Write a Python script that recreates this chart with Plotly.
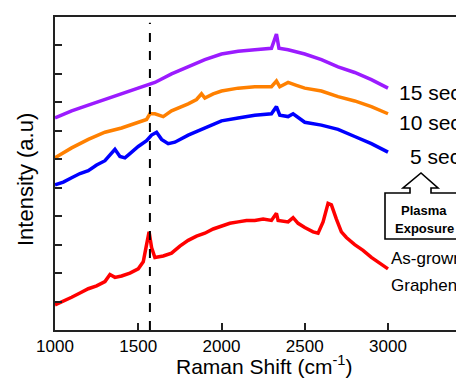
import plotly.graph_objects as go

# ---- data (Raman shift in cm^-1, intensity in offset arbitrary units) ----
red_x = [1000, 1050, 1100, 1150, 1200, 1250, 1300, 1330, 1360, 1400, 1450, 1500, 1530, 1550, 1565, 1580,
         1600, 1650, 1700, 1750, 1800, 1850, 1900, 1950, 2000, 2050, 2100, 2150, 2200, 2250, 2300, 2330,
         2340, 2400, 2430, 2460, 2500, 2550, 2580, 2610, 2640, 2660, 2690, 2720, 2750, 2800, 2850, 2900,
         2950, 3000]
red_y = [0.88, 1.0, 1.15, 1.3, 1.45, 1.55, 1.7, 1.95, 1.85, 1.9, 2.0, 2.15, 2.4, 3.0, 3.45, 2.9,
         2.55, 2.6, 2.7, 2.95, 3.15, 3.3, 3.4, 3.55, 3.65, 3.75, 3.8, 3.85, 3.85, 3.9, 3.85, 4.1,
         3.85, 3.8, 3.95, 3.75, 3.6, 3.45, 3.4, 3.8, 4.45, 4.4, 3.9, 3.45, 3.25, 3.0, 2.8, 2.55,
         2.35, 2.15]

blue_x = [1000, 1050, 1100, 1150, 1200, 1250, 1300, 1340, 1360, 1390, 1420, 1450, 1500, 1550, 1580, 1610,
          1640, 1680, 1720, 1800, 1900, 2000, 2100, 2200, 2300, 2330, 2350, 2400, 2430, 2500, 2600, 2700,
          2800, 2900, 3000]
blue_y = [5.1, 5.2, 5.35, 5.5, 5.6, 5.8, 5.95, 6.25, 6.35, 6.1, 6.05, 6.2, 6.45, 6.65, 6.85, 6.95,
          6.7, 6.55, 6.6, 6.85, 7.1, 7.35, 7.45, 7.55, 7.6, 7.85, 7.55, 7.5, 7.6, 7.3, 7.2, 7.05,
          6.8, 6.55, 6.25]

orange_x = [1000, 1100, 1200, 1300, 1400, 1500, 1550, 1570, 1600, 1650, 1700, 1800, 1850, 1880, 1900, 1950,
            2000, 2100, 2200, 2300, 2330, 2350, 2400, 2450, 2500, 2600, 2700, 2800, 2900, 3000]
orange_y = [6.05, 6.4, 6.7, 6.95, 7.1, 7.3, 7.4, 7.6, 7.6, 7.5, 7.7, 7.95, 8.1, 8.3, 8.15, 8.3,
            8.4, 8.5, 8.55, 8.55, 8.75, 8.55, 8.7, 8.6, 8.5, 8.4, 8.2, 8.05, 7.85, 7.6]

purple_x = [1000, 1100, 1200, 1300, 1400, 1500, 1600, 1700, 1800, 1900, 2000, 2100, 2200, 2300, 2330, 2345,
            2400, 2500, 2600, 2700, 2800, 2900, 3000]
purple_y = [7.45, 7.7, 7.9, 8.1, 8.3, 8.5, 8.7, 9.0, 9.25, 9.5, 9.7, 9.8, 9.85, 9.9, 10.4, 9.9,
            9.85, 9.7, 9.5, 9.25, 9.05, 8.8, 8.5]

x_tickvals = [1000, 1500, 2000, 2500, 3000]
y_tickvals = [1, 2, 3, 4, 5, 6, 7, 8, 9, 10]
g_peak = 1570

FONT = "Arial, Liberation Sans, sans-serif"

# page has an 8px body margin: figure drawn at 456x373 offset by 8px
OFF = 8
FIG_W, FIG_H = 464 - OFF, 381 - OFF
# plot-area geometry in page pixels
L, R, T, B = 55, 464, 17, 330
W, H = R - L, B - T


def px(x):
    return (x - L) / W


def py(y):
    return (B - y) / H


fig = go.Figure()
for xs, ys, col in [(red_x, red_y, "#FF0000"), (blue_x, blue_y, "#0000FF"),
                    (orange_x, orange_y, "#FF8000"), (purple_x, purple_y, "#9B1BFF")]:
    fig.add_trace(go.Scatter(x=xs, y=ys, mode="lines", line=dict(color=col, width=3.5),
                             showlegend=False, hoverinfo="skip"))

# dashed G-peak line
fig.add_shape(type="line", xref="x", yref="y", x0=g_peak, x1=g_peak, y0=0, y1=10.8,
              line=dict(color="black", width=2, dash="dash"))

# arrow + box outline (pixel coords -> paper)
pts = [(385, 193), (385, 239), (462, 239), (462, 193), (431, 193), (431, 188), (438, 188),
       (421, 173), (403, 188), (410, 188), (410, 193)]
path = "M " + " L ".join(f"{px(a):.5f},{py(b):.5f}" for a, b in pts) + " Z"
fig.add_shape(type="path", xref="paper", yref="paper", path=path,
              line=dict(color="black", width=1.6), fillcolor="white")

ann = [
    dict(text="15 sec", x=px(397), y=py(92), size=21),
    dict(text="10 sec", x=px(397), y=py(122), size=21),
    dict(text="5 sec", x=px(408), y=py(156), size=21),
]
for a in ann:
    fig.add_annotation(text=a["text"], x=a["x"], y=a["y"], xref="paper", yref="paper",
                       xanchor="left", yanchor="middle", showarrow=False,
                       font=dict(family=FONT, size=a["size"], color="black"))

fig.add_annotation(text="As-grown", x=px(389), y=py(258), xref="paper", yref="paper",
                   xanchor="left", yanchor="middle", showarrow=False,
                   font=dict(family=FONT, size=17, color="black"))
fig.add_annotation(text="Graphene", x=px(389), y=py(285), xref="paper", yref="paper",
                   xanchor="left", yanchor="middle", showarrow=False,
                   font=dict(family=FONT, size=17, color="black"))
fig.add_annotation(text="<b>Plasma</b>", x=px(424), y=py(210), xref="paper", yref="paper",
                   xanchor="center", yanchor="middle", showarrow=False,
                   font=dict(family=FONT, size=13, color="black"))
fig.add_annotation(text="<b>Exposure</b>", x=px(424), y=py(228), xref="paper", yref="paper",
                   xanchor="center", yanchor="middle", showarrow=False,
                   font=dict(family=FONT, size=13, color="black"))

# axis titles
fig.add_annotation(text="Raman Shift (cm<sup>-1</sup>)", x=px(264), y=py(365), xref="paper", yref="paper",
                   xanchor="center", yanchor="middle", showarrow=False,
                   font=dict(family=FONT, size=21, color="black"))
fig.add_annotation(text="Intensity (a.u)", x=px(25), y=py(180), xref="paper", yref="paper",
                   xanchor="center", yanchor="middle", showarrow=False, textangle=-90,
                   font=dict(family=FONT, size=22, color="black"))

fig.update_layout(
    width=FIG_W, height=FIG_H,
    margin=dict(l=L - OFF, r=0, t=T - OFF, b=FIG_H - (B - OFF)),
    paper_bgcolor="white", plot_bgcolor="white",
    font=dict(family=FONT, color="black"),
    xaxis=dict(range=[1000, 1000 + W / (333 / 2000)], tickvals=x_tickvals,
               ticktext=[str(v) for v in x_tickvals],
               ticks="inside", ticklen=7, tickwidth=1.5, tickcolor="#222",
               showline=True, linecolor="#222", linewidth=1.8, mirror=True,
               showgrid=False, zeroline=False, tickfont=dict(size=17, family=FONT)),
    yaxis=dict(range=[0, 11], tickvals=y_tickvals, showticklabels=False,
               ticks="inside", ticklen=7, tickwidth=1.5, tickcolor="#222",
               showline=True, linecolor="#222", linewidth=1.8, mirror=False,
               showgrid=False, zeroline=False),
)

fig.write_html("out.html")
